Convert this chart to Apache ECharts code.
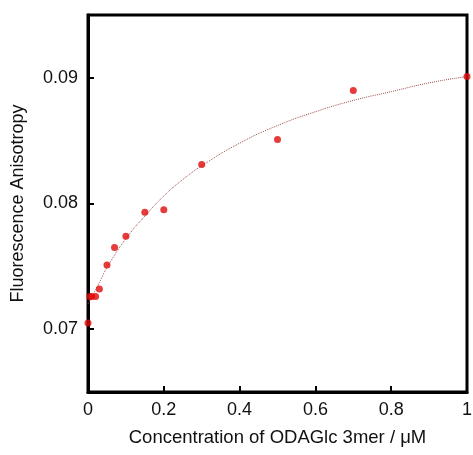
<!DOCTYPE html>
<html>
<head>
<meta charset="utf-8">
<script src="https://cdn.jsdelivr.net/npm/echarts@6/dist/echarts.min.js"></script>
<style>
  html, body { margin: 0; padding: 0; background: #fff; }
  #chart { width: 473px; height: 455px; }
</style>
</head>
<body>
<div id="chart"></div>
<script>
// measured points (concentration uM, anisotropy)
const concX = [0, 0.005, 0.01, 0.02, 0.03, 0.05, 0.07, 0.1, 0.15, 0.2, 0.3, 0.5, 0.7, 1.0]
const anisoY = [0.0705, 0.0726, 0.0726, 0.0726, 0.0732, 0.0751, 0.0765, 0.0774, 0.0793, 0.0795, 0.0831, 0.0851, 0.0890, 0.0901]

// fitted curve
const fitX = [0, 0.03, 0.05, 0.1, 0.15, 0.2, 0.25, 0.3, 0.4, 0.5, 0.6, 0.7, 0.8, 0.9, 1.0]
const fitY = [0.0720, 0.0737, 0.0749, 0.0772, 0.0790, 0.0806, 0.0819, 0.0830, 0.0848, 0.0862, 0.0873, 0.0882, 0.0889, 0.0896, 0.0901]

const yTicks = [0.07, 0.08, 0.09]

const chart = echarts.init(document.getElementById('chart'))

const font = 'Liberation Sans, Arial, sans-serif'

chart.setOption({
  animation: false,
  grid: {
    left: 88, right: 6, top: 15, bottom: 63,
    outerBoundsMode: 'none',
    containLabel: false,
    show: true,
    borderColor: '#000',
    borderWidth: 3
  },
  xAxis: {
    type: 'value',
    min: 0, max: 1, interval: 0.2,
    name: 'Concentration of ODAGlc 3mer / μM',
    nameLocation: 'middle',
    nameGap: 36,
    nameTextStyle: { fontFamily: font, fontSize: 18.5, color: '#111' },
    axisLine: { show: true, lineStyle: { color: '#000', width: 3 } },
    axisTick: { show: true, inside: true, length: 6, lineStyle: { color: '#000', width: 2 } },
    axisLabel: { fontFamily: font, fontSize: 18, color: '#111', margin: 9 },
    splitLine: { show: false }
  },
  yAxis: {
    type: 'value',
    min: 0.065, max: 0.095,
    name: 'Fluorescence Anisotropy',
    nameLocation: 'middle',
    nameGap: 61,
    nameTextStyle: { fontFamily: font, fontSize: 18, color: '#111' },
    axisLine: { show: true, lineStyle: { color: '#000', width: 3 } },
    axisTick: { show: true, inside: true, length: 6, customValues: yTicks, lineStyle: { color: '#000', width: 2 } },
    axisLabel: {
      fontFamily: font, fontSize: 18, color: '#111', margin: 10,
      customValues: yTicks,
      formatter: v => v.toFixed(2)
    },
    splitLine: { show: false }
  },
  series: [
    {
      type: 'line',
      data: fitX.map((x, i) => [x, fitY[i]]),
      smooth: true,
      showSymbol: false,
      lineStyle: { color: '#a0504a', width: 1, type: 'dotted' },
      z: 1
    },
    {
      type: 'scatter',
      data: concX.map((x, i) => [x, anisoY[i]]),
      symbolSize: 7,
      itemStyle: { color: '#e00a0a' },
      z: 2
    }
  ]
})
</script>
</body>
</html>
